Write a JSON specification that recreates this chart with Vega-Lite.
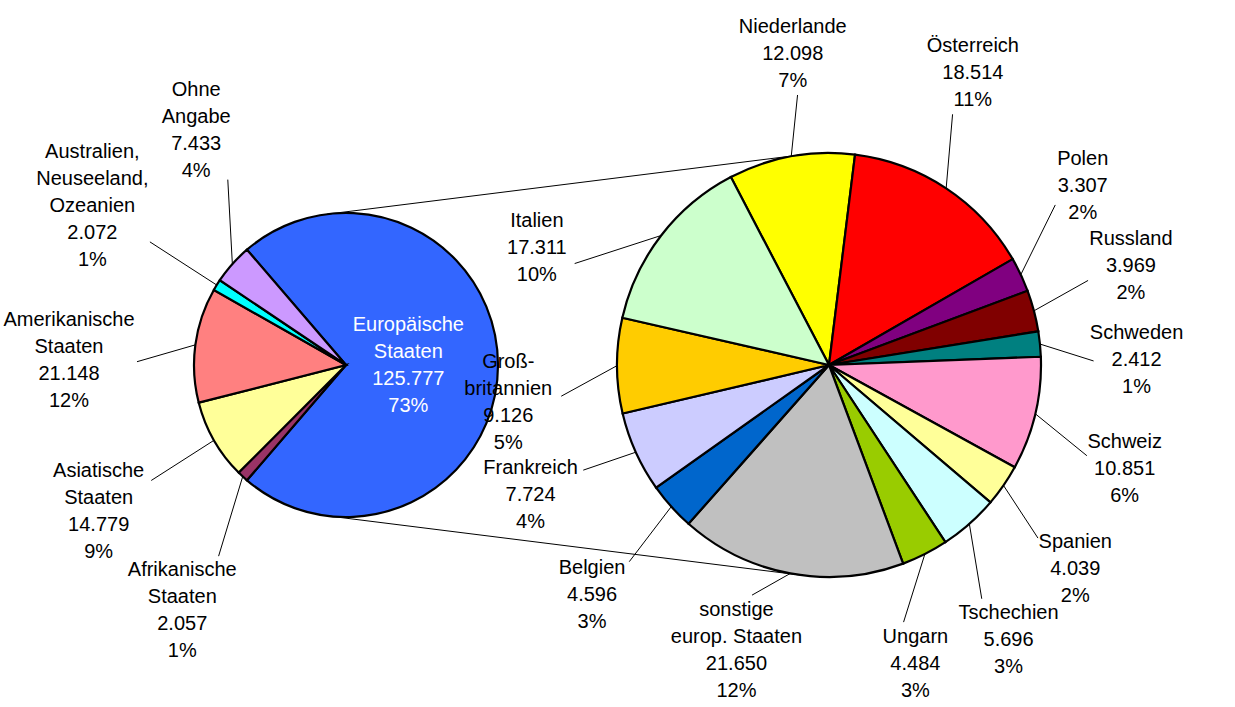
{
  "$schema": "https://vega.github.io/schema/vega-lite/v6.json",
  "width": 1235,
  "height": 707,
  "padding": 0,
  "autosize": {"type": "none"},
  "background": "white",
  "config": {"view": {"stroke": null}},
  "data": {
    "values": [
      {"pie": "Gesamt", "name": "Europäische\nStaaten", "value": 125777},
      {"pie": "Gesamt", "name": "Afrikanische\nStaaten", "value": 2057},
      {"pie": "Gesamt", "name": "Asiatische\nStaaten", "value": 14779},
      {"pie": "Gesamt", "name": "Amerikanische\nStaaten", "value": 21148},
      {"pie": "Gesamt", "name": "Australien,\nNeuseeland,\nOzeanien", "value": 2072},
      {"pie": "Gesamt", "name": "Ohne\nAngabe", "value": 7433},
      {"pie": "Europa", "name": "Niederlande", "value": 12098},
      {"pie": "Europa", "name": "Österreich", "value": 18514},
      {"pie": "Europa", "name": "Polen", "value": 3307},
      {"pie": "Europa", "name": "Russland", "value": 3969},
      {"pie": "Europa", "name": "Schweden", "value": 2412},
      {"pie": "Europa", "name": "Schweiz", "value": 10851},
      {"pie": "Europa", "name": "Spanien", "value": 4039},
      {"pie": "Europa", "name": "Tschechien", "value": 5696},
      {"pie": "Europa", "name": "Ungarn", "value": 4484},
      {"pie": "Europa", "name": "sonstige\neurop. Staaten", "value": 21650},
      {"pie": "Europa", "name": "Belgien", "value": 4596},
      {"pie": "Europa", "name": "Frankreich", "value": 7724},
      {"pie": "Europa", "name": "Groß-\nbritannien", "value": 9126},
      {"pie": "Europa", "name": "Italien", "value": 17311}
    ]
  },
  "transform": [
    {"joinaggregate": [{"op": "sum", "field": "value", "as": "pieTotal"}], "groupby": ["pie"]},
    {"joinaggregate": [{"op": "max", "field": "pieTotal", "as": "grand"}]},
    {"window": [{"op": "sum", "field": "value", "as": "cum"}], "groupby": ["pie"], "frame": [null, 0]},
    {"calculate": "346", "as": "lcx"},
    {"calculate": "152", "as": "lr"},
    {"calculate": "829", "as": "rcx"},
    {"calculate": "212", "as": "rr"},
    {"calculate": "365", "as": "cy"},
    {"calculate": "datum.pie === 'Gesamt' ? datum.lcx : datum.rcx", "as": "cx"},
    {"calculate": "datum.pie === 'Gesamt' ? datum.lr : datum.rr", "as": "r"},
    {"calculate": "datum.pie === 'Gesamt' ? -0.7097 : -0.4812", "as": "rot"},
    {"calculate": "datum.value / datum.pieTotal", "as": "share"},
    {"calculate": "datum.rot + 2*PI*(datum.cum - datum.value)/datum.pieTotal", "as": "a0"},
    {"calculate": "datum.rot + 2*PI*datum.cum/datum.pieTotal", "as": "a1"},
    {"calculate": "(datum.a0 + datum.a1)/2", "as": "mid"},
    {"calculate": "max(2*PI*datum.share, datum.pie === 'Gesamt' ? 0.5236 : 0.40)", "as": "w"},
    {"calculate": "datum.pie === 'Gesamt' ? 0 : 0.6981", "as": "reserve"},
    {"window": [{"op": "sum", "field": "w", "as": "cw"}], "groupby": ["pie"], "frame": [null, 0]},
    {"joinaggregate": [{"op": "sum", "field": "w", "as": "wTotal"}], "groupby": ["pie"]},
    {"calculate": "2*PI*(datum.reserve + datum.cw - datum.w/2)/(datum.reserve + datum.wTotal)", "as": "lraw"},
    {"calculate": "datum.lraw - datum.mid", "as": "dd"},
    {"joinaggregate": [{"op": "mean", "field": "dd", "as": "md"}], "groupby": ["pie"]},
    {"calculate": "datum.lraw - datum.md", "as": "la"},
    {"calculate": "datum.name + '\\n' + replace(format(datum.value, ','), ',', '.') + '\\n' + round(100*datum.value/datum.grand) + '%'", "as": "lab"},
    {"calculate": "split(datum.lab, '\\n')", "as": "lines"},
    {"calculate": "length(datum.lines)", "as": "nl"},
    {"calculate": "max(length(datum.lines[0]), length(datum.lines[1] || ''), length(datum.lines[2] || ''), length(datum.lines[3] || ''), length(datum.lines[4] || ''))", "as": "maxLen"},
    {"calculate": "datum.maxLen * 5", "as": "hw"},
    {"calculate": "datum.nl * 13.5", "as": "hh"},
    {"calculate": "datum.pie === 'Gesamt' ? 65 : 55", "as": "gap"},
    {"calculate": "(datum.rr - datum.lr)/(datum.rcx - datum.lcx)", "as": "sn"},
    {"calculate": "sqrt(1 - datum.sn*datum.sn)", "as": "cs"},
    {"calculate": "datum.lcx - datum.lr*datum.sn", "as": "tx1"},
    {"calculate": "datum.rcx - datum.rr*datum.sn", "as": "tx2"},
    {"calculate": "datum.cy - datum.lr*datum.cs", "as": "ty1"},
    {"calculate": "datum.cy - datum.rr*datum.cs", "as": "ty2"},
    {"calculate": "datum.cy + datum.lr*datum.cs", "as": "by1"},
    {"calculate": "datum.cy + datum.rr*datum.cs", "as": "by2"},
    {"calculate": "datum.r + datum.gap + datum.hw*abs(sin(datum.la)) + datum.hh*abs(cos(datum.la))", "as": "R"},
    {"calculate": "clamp(datum.cx + datum.R*sin(datum.la), datum.hw + 4, 1231 - datum.hw)", "as": "lx"},
    {"calculate": "datum.cy - datum.R*cos(datum.la)", "as": "ly0"},
    {"calculate": "datum.lx + datum.hw > datum.tx1 && datum.lx - datum.hw < datum.tx2", "as": "inSpan"},
    {"calculate": "datum.ty1 + (datum.ty2 - datum.ty1)*(datum.lx - datum.tx1)/(datum.tx2 - datum.tx1)", "as": "yTop"},
    {"calculate": "datum.by1 + (datum.by2 - datum.by1)*(datum.lx - datum.tx1)/(datum.tx2 - datum.tx1)", "as": "yBot"},
    {"calculate": "!datum.inSpan ? datum.ly0 : (datum.ly0 < datum.yTop ? min(datum.ly0, datum.yTop - datum.hh - 6) : max(datum.ly0, datum.yTop + datum.hh + 6))", "as": "ly1"},
    {"calculate": "!datum.inSpan ? datum.ly1 : (datum.ly1 < datum.yBot ? min(datum.ly1, datum.yBot - datum.hh - 6) : max(datum.ly1, datum.yBot + datum.hh + 6))", "as": "ly2"},
    {"calculate": "clamp(datum.ly2, datum.hh + 3, 704 - datum.hh)", "as": "ly"},
    {"calculate": "datum.ly - (datum.nl - 1)*13.5", "as": "ty"},
    {"calculate": "datum.cx + datum.r*sin(datum.mid)", "as": "sx"},
    {"calculate": "datum.cy - datum.r*cos(datum.mid)", "as": "sy"},
    {"calculate": "min(datum.hw/max(abs(sin(datum.la)), 0.001), (datum.hh - 2)/max(abs(cos(datum.la)), 0.001)) + 3", "as": "tEdge"},
    {"calculate": "datum.lx - datum.tEdge*sin(datum.la)", "as": "ex"},
    {"calculate": "datum.ly + datum.tEdge*cos(datum.la)", "as": "ey"},
    {"calculate": "datum.cx + 0.41*datum.r*sin(datum.mid)", "as": "ix"},
    {"calculate": "datum.cy - 0.41*datum.r*cos(datum.mid) - (datum.nl - 1)*13.5", "as": "iy"}
  ],
  "layer": [
    {
      "mark": {"type": "arc", "stroke": "#000000", "strokeWidth": 2.2},
      "encoding": {
        "x": {"field": "cx", "type": "quantitative", "scale": {"domain": [0, 1235], "nice": false, "zero": false}, "axis": null},
        "y": {"field": "cy", "type": "quantitative", "scale": {"domain": [0, 707], "nice": false, "zero": false, "reverse": true}, "axis": null},
        "theta": {"field": "a0", "type": "quantitative", "scale": null, "stack": null},
        "theta2": {"field": "a1"},
        "radius": {"field": "r", "type": "quantitative", "scale": null},
        "color": {
          "field": "name",
          "type": "nominal",
          "legend": null,
          "scale": {
            "domain": ["Europäische\nStaaten", "Afrikanische\nStaaten", "Asiatische\nStaaten", "Amerikanische\nStaaten", "Australien,\nNeuseeland,\nOzeanien", "Ohne\nAngabe", "Niederlande", "Österreich", "Polen", "Russland", "Schweden", "Schweiz", "Spanien", "Tschechien", "Ungarn", "sonstige\neurop. Staaten", "Belgien", "Frankreich", "Groß-\nbritannien", "Italien"],
            "range": ["#3366FF", "#993366", "#FFFF99", "#FF8080", "#00FFFF", "#CC99FF", "#FFFF00", "#FF0000", "#800080", "#800000", "#008080", "#FF99CC", "#FFFF99", "#CCFFFF", "#99CC00", "#C0C0C0", "#0066CC", "#CCCCFF", "#FFCC00", "#CCFFCC"]
          }
        }
      }
    },
    {
      "transform": [{"filter": "datum.pie === 'Gesamt' && datum.share > 0.5"}],
      "mark": {"type": "rule", "color": "#000000", "strokeWidth": 1},
      "encoding": {
        "x": {"field": "tx1", "type": "quantitative", "scale": {"domain": [0, 1235], "nice": false, "zero": false}, "axis": null},
        "y": {"field": "ty1", "type": "quantitative", "scale": {"domain": [0, 707], "nice": false, "zero": false, "reverse": true}, "axis": null},
        "x2": {"field": "tx2"},
        "y2": {"field": "ty2"}
      }
    },
    {
      "transform": [{"filter": "datum.pie === 'Gesamt' && datum.share > 0.5"}],
      "mark": {"type": "rule", "color": "#000000", "strokeWidth": 1},
      "encoding": {
        "x": {"field": "tx1", "type": "quantitative", "scale": {"domain": [0, 1235], "nice": false, "zero": false}, "axis": null},
        "y": {"field": "by1", "type": "quantitative", "scale": {"domain": [0, 707], "nice": false, "zero": false, "reverse": true}, "axis": null},
        "x2": {"field": "tx2"},
        "y2": {"field": "by2"}
      }
    },
    {
      "transform": [{"filter": "datum.share <= 0.5"}],
      "mark": {"type": "rule", "color": "#000000", "strokeWidth": 1},
      "encoding": {
        "x": {"field": "sx", "type": "quantitative", "scale": {"domain": [0, 1235], "nice": false, "zero": false}, "axis": null},
        "y": {"field": "sy", "type": "quantitative", "scale": {"domain": [0, 707], "nice": false, "zero": false, "reverse": true}, "axis": null},
        "x2": {"field": "ex"},
        "y2": {"field": "ey"}
      }
    },
    {
      "transform": [{"filter": "datum.share <= 0.5"}],
      "mark": {"type": "text", "font": "Liberation Sans", "fontSize": 20, "lineHeight": 27, "lineBreak": "\n", "align": "center", "baseline": "middle", "color": "#000000"},
      "encoding": {
        "x": {"field": "lx", "type": "quantitative", "scale": {"domain": [0, 1235], "nice": false, "zero": false}, "axis": null},
        "y": {"field": "ty", "type": "quantitative", "scale": {"domain": [0, 707], "nice": false, "zero": false, "reverse": true}, "axis": null},
        "text": {"field": "lab", "type": "nominal"}
      }
    },
    {
      "transform": [{"filter": "datum.share > 0.5"}],
      "mark": {"type": "text", "font": "Liberation Sans", "fontSize": 20, "lineHeight": 27, "lineBreak": "\n", "align": "center", "baseline": "middle", "color": "#FFFFFF"},
      "encoding": {
        "x": {"field": "ix", "type": "quantitative", "scale": {"domain": [0, 1235], "nice": false, "zero": false}, "axis": null},
        "y": {"field": "iy", "type": "quantitative", "scale": {"domain": [0, 707], "nice": false, "zero": false, "reverse": true}, "axis": null},
        "text": {"field": "lab", "type": "nominal"}
      }
    }
  ]
}
